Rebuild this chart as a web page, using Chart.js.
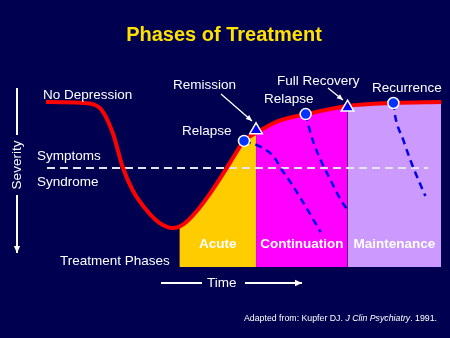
<!DOCTYPE html>
<html>
<head>
<meta charset="utf-8">
<title>Phases of Treatment</title>
<script src="https://cdn.jsdelivr.net/npm/chart.js@4.4.1/dist/chart.umd.min.js"></script>
<style>
  html, body { margin: 0; padding: 0; background: #000050; }
  .chart-wrap { position: relative; width: 450px; height: 338px; }
</style>
</head>
<body>
<div class="chart-wrap"><canvas id="phases-chart"></canvas></div>
<script>
/* ===== PHASES OF TREATMENT ===== */

// Time runs 0-100; level runs 0 (worst) to 100 (no depression)
const curveTime  = [0, 9.3, 13.6, 16.9, 19.4, 21.9, 25.4, 28.7, 32.0, 33.75, 35.5, 38.8, 41.8, 45.1, 47.6, 50.1, 53.15, 58.9, 66.0, 76.3, 87.9, 100];
const curveLevel = [100, 99.4, 96.4, 81.2, 60.6, 46.7, 34.5, 26.7, 23.6, 24.5, 27.3, 35.8, 45.5, 57.6, 67.3, 76.4, 81.2, 88.5, 92.7, 97.6, 99.4, 100];

const phaseNames  = ['Acute', 'Continuation', 'Maintenance'];
const phaseStart  = [33.75, 53.15, 76.3];
const phaseEnd    = [53.15, 76.3, 100];
const phaseColors = ['#FFCC00', '#FF00FF', '#CC99FF'];

// symptoms / syndrome threshold
const thresholdTime  = [0.25, 96.7];
const thresholdLevel = [60, 60];

// relapse & recurrence paths
const relapseTime = [
    [50.1, 54.4, 57.7, 59.7, 62.0, 64.7, 69.5],
    [65.7, 66.2, 67.3, 69.5, 72.0, 74.6, 76.3],
    [87.9, 88.4, 90.4, 92.2, 93.7, 96.0]
];
const relapseLevel = [
    [76.4, 72.7, 66.7, 58.8, 50.9, 40.6, 21.2],
    [92.7, 87.9, 78.2, 64.8, 52.7, 40.6, 34.5],
    [99.4, 90.9, 77.0, 64.8, 55.8, 43.0]
];

const eventTime  = [50.1, 65.7, 87.9];   // relapse, relapse, recurrence
const eventLevel = [76.4, 92.7, 99.4];
const milestoneTime  = [53.15, 76.3];    // remission, full recovery
const milestoneLevel = [83.0, 96.7];

const FONT = "'Liberation Sans', Arial, sans-serif";

const toPoints = (xs, ys) => xs.map((x, i) => ({ x, y: ys[i] }));

const curvePoints = toPoints(curveTime, curveLevel);

const datasets = [];

// markers on top
datasets.push({
    data: toPoints(eventTime, eventLevel),
    showLine: false,
    pointStyle: 'circle',
    pointRadius: 5.5,
    pointBackgroundColor: '#0033FF',
    pointBorderColor: '#FFFFFF',
    pointBorderWidth: 1.5,
    clip: false
});
datasets.push({
    data: toPoints(milestoneTime, milestoneLevel),
    showLine: false,
    pointStyle: 'triangle',
    pointRadius: 7.3,
    pointBackgroundColor: '#0000EE',
    pointBorderColor: '#FFFFFF',
    pointBorderWidth: 1.5,
    clip: false
});

// course of illness
datasets.push({
    data: curvePoints,
    borderColor: '#FF0000',
    borderWidth: 4,
    cubicInterpolationMode: 'monotone',
    pointRadius: 0,
    fill: false,
    clip: false
});

relapseTime.forEach((xs, i) => {
    datasets.push({
        data: toPoints(xs, relapseLevel[i]),
        borderColor: '#0000EE',
        borderWidth: 2.5,
        borderDash: [7, 5],
        cubicInterpolationMode: 'monotone',
        pointRadius: 0,
        fill: false,
        clip: false
    });
});

datasets.push({
    data: toPoints(thresholdTime, thresholdLevel),
    borderColor: '#E4E4EE',
    borderWidth: 2,
    borderDash: [8, 5],
    pointRadius: 0,
    fill: false,
    clip: false
});

// phase fills under the curve
phaseNames.forEach((name, i) => {
    datasets.push({
        label: name,
        data: curvePoints.filter(p => p.x >= phaseStart[i] && p.x <= phaseEnd[i]),
        borderWidth: 0,
        borderColor: 'rgba(0,0,0,0)',
        backgroundColor: phaseColors[i],
        cubicInterpolationMode: 'monotone',
        pointRadius: 0,
        fill: 'origin',
        clip: false
    });
});

function arrow(ctx, x1, y1, x2, y2, head) {
    ctx.beginPath();
    ctx.moveTo(x1, y1);
    ctx.lineTo(x2, y2);
    ctx.stroke();
    if (!head) return;
    const a = Math.atan2(y2 - y1, x2 - x1);
    ctx.beginPath();
    ctx.moveTo(x2, y2);
    ctx.lineTo(x2 - head * Math.cos(a) + head * 0.45 * Math.sin(a), y2 - head * Math.sin(a) - head * 0.45 * Math.cos(a));
    ctx.lineTo(x2 - head * Math.cos(a) - head * 0.45 * Math.sin(a), y2 - head * Math.sin(a) + head * 0.45 * Math.cos(a));
    ctx.closePath();
    ctx.fill();
}

const annotations = {
    id: 'annotations',
    afterDraw(chart) {
        const ctx = chart.ctx;
        const xs = chart.scales.x, ys = chart.scales.y;
        ctx.save();

        // title
        ctx.fillStyle = '#FFE100';
        ctx.font = `bold 20px ${FONT}`;
        ctx.textAlign = 'center';
        ctx.textBaseline = 'middle';
        ctx.fillText('Phases of Treatment', 224, 35);

        // phase names
        ctx.fillStyle = '#FFFFFF';
        ctx.font = `bold 13.5px ${FONT}`;
        phaseNames.forEach((name, i) => {
            const cx = (xs.getPixelForValue(phaseStart[i]) + xs.getPixelForValue(phaseEnd[i])) / 2;
            ctx.fillText(name, cx, ys.getPixelForValue(0) - 23);
        });

        // plain labels
        ctx.font = `13.5px ${FONT}`;
        ctx.textAlign = 'left';
        [
            ['No Depression', 43, 95],
            ['Symptoms', 37, 156],
            ['Syndrome', 37, 182],
            ['Remission', 173, 85],
            ['Relapse', 182, 131],
            ['Relapse', 264, 99],
            ['Full Recovery', 277, 81],
            ['Recurrence', 372, 88],
            ['Treatment Phases', 60, 261],
            ['Time', 207, 283]
        ].forEach(([t, x, y]) => ctx.fillText(t, x, y));

        // severity axis label
        ctx.save();
        ctx.translate(17, 165);
        ctx.rotate(-Math.PI / 2);
        ctx.textAlign = 'center';
        ctx.fillText('Severity', 0, 0);
        ctx.restore();

        // arrows
        ctx.strokeStyle = '#FFFFFF';
        ctx.lineWidth = 2;
        arrow(ctx, 17, 88, 17, 135, 0);
        arrow(ctx, 17, 195, 17, 253, 7);
        arrow(ctx, 161, 283, 202, 283, 0);
        arrow(ctx, 245, 283, 302, 283, 7);
        ctx.lineWidth = 1.3;
        arrow(ctx, 221, 94, 252, 121, 6);
        arrow(ctx, 328, 88, 343, 100, 6);

        // source note
        const parts = [
            ['Adapted from: Kupfer DJ. ', `9.5px ${FONT}`],
            ['J Clin Psychiatry', `italic 9.5px ${FONT}`],
            ['. 1991.', `9.5px ${FONT}`]
        ];
        let total = 0;
        parts.forEach(([t, f]) => { ctx.font = f; total += ctx.measureText(t).width; });
        const sx = 193 / total;
        ctx.save();
        ctx.translate(244, 318);
        ctx.scale(sx, 1);
        let px = 0;
        parts.forEach(([t, f]) => {
            ctx.font = f;
            ctx.fillText(t, px, 0);
            px += ctx.measureText(t).width;
        });
        ctx.restore();

        ctx.restore();
    }
};

new Chart(document.getElementById('phases-chart'), {
    type: 'line',
    data: { datasets },
    options: {
        responsive: true,
        maintainAspectRatio: false,
        animation: false,
        layout: { padding: { left: 46, right: 7, top: 85.5, bottom: 71 } },
        plugins: { legend: { display: false }, tooltip: { enabled: false } },
        scales: {
            x: { type: 'linear', min: 0, max: 100, display: false },
            y: { min: 0, max: 110, display: false }
        }
    },
    plugins: [annotations]
});
</script>
</body>
</html>
